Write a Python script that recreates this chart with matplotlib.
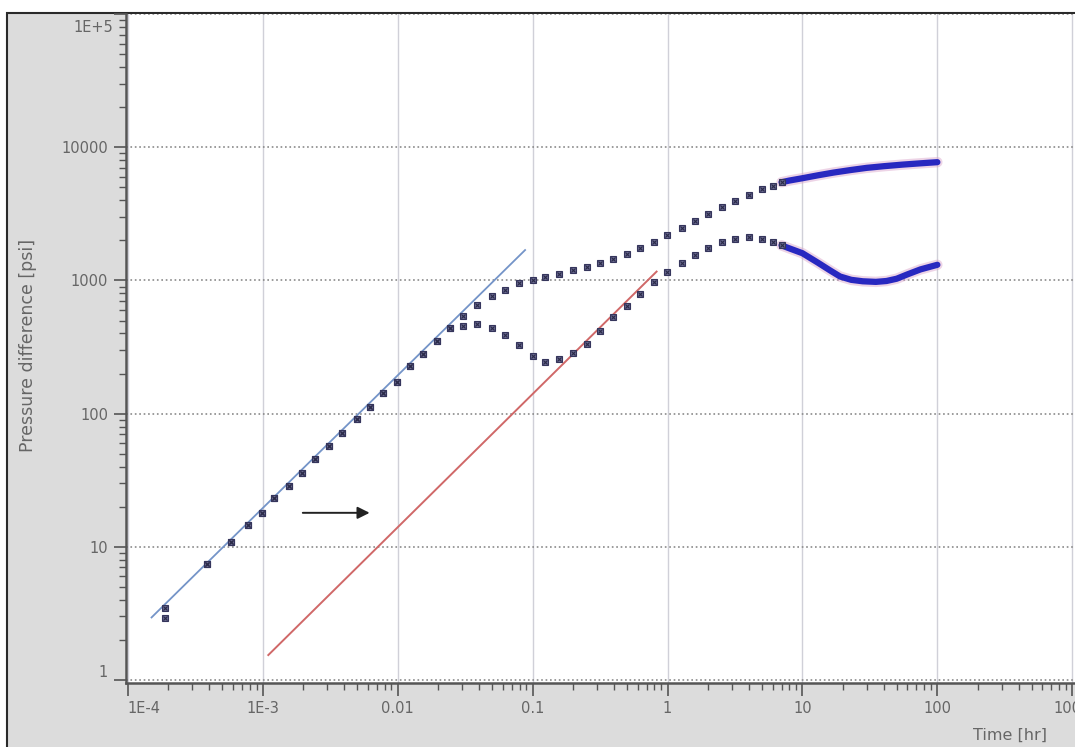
import numpy as np
import matplotlib.pyplot as plt
from matplotlib.patches import Rectangle
from matplotlib.ticker import NullFormatter

# pressure change (upper) and its derivative (lower), sampled points
pressure_t = [1.9e-4, 3.87e-4, 5.82e-4, 7.8e-4, 9.9e-4, 1.22e-3, 1.57e-3, 1.96e-3, 2.44e-3,
              3.1e-3, 3.88e-3, 5.0e-3, 6.25e-3, 7.8e-3, 9.9e-3, 0.0124, 0.0154, 0.0196,
              0.0244, 0.0305, 0.0388, 0.0501, 0.0625, 0.0794, 0.1009, 0.124, 0.157, 0.2,
              0.253, 0.316, 0.394, 0.5, 0.625, 0.794, 0.99, 1.276, 1.6, 2.0, 2.53, 3.16,
              4.0, 5.0, 6.0, 7.0]
pressure_p = [3.5, 7.45, 10.9, 14.6, 18, 23.4, 28.8, 36, 45.9, 57.5, 72, 91.7, 113, 144,
              174, 226, 278, 348, 436, 536, 649, 758, 841, 949, 1000, 1054, 1109, 1189,
              1253, 1342, 1438, 1567, 1741, 1932, 2200, 2460, 2778, 3135, 3539, 3926,
              4357, 4834, 5093, 5457]

deriv_t = pressure_t
deriv_p = [2.92, 7.45, 10.9, 14.6, 18, 23.4, 28.8, 36, 45.9, 57.5, 72, 91.7, 113, 144,
           174, 226, 278, 348, 436, 451, 467, 443, 386, 325, 273, 246, 255, 283, 336,
           414, 527, 638, 785, 966, 1148, 1342, 1542, 1741, 1932, 2033, 2105, 2033,
           1932, 1833]

# late-time data is sampled densely enough to read as a solid band
pressure_tail_t = [7, 8, 10, 13, 17, 23, 30, 40, 55, 75, 100]
pressure_tail_p = [5457, 5620, 5850, 6150, 6450, 6750, 7000, 7200, 7400, 7570, 7720]
deriv_tail_t = [7, 8, 10, 13, 16, 19, 23, 28, 35, 42, 50, 60, 75, 100]
deriv_tail_p = [1833, 1740, 1600, 1360, 1190, 1070, 1010, 985, 975, 990, 1030, 1110, 1210, 1310]

# unit-slope (wellbore storage) lines
storage_t = [1.5e-4, 0.088]
storage_p = [2.95, 1690]
shifted_t = [1.1e-3, 0.83]
shifted_p = [1.54, 1165]

arrow_t = [1.89e-3, 6.5e-3]
arrow_p = 18.0

xticks = [1e-4, 1e-3, 0.01, 0.1, 1, 10, 100, 1000]
xticklabels = ['1E-4', '1E-3', '0.01', '0.1', '1', '10', '100', '1000']
yticks = [1, 10, 100, 1000, 10000, 100000]
yticklabels = ['1', '10', '100', '1000', '10000', '1E+5']

W, H = 1075, 747
fig = plt.figure(figsize=(W / 100, H / 100), dpi=100, facecolor='white')

# grey panel with a dark frame on its left and top edges
fig.patches.append(Rectangle((7 / W, -0.1), 1.2, 1 - 13 / H + 0.1, transform=fig.transFigure,
                             facecolor='#dcdcdc', edgecolor='#2a2a2a', lw=1.5, zorder=-5))

ax = fig.add_axes([126 / W, 1 - 683 / H, 1 - 126 / W, (683 - 14) / H])
ax.set_facecolor('white')
ax.set_xscale('log')
ax.set_yscale('log')
ax.set_xlim(9.7e-5, 10 ** 3.02)
ax.set_ylim(0.95, 1.0e5)

ax.grid(True, which='major', axis='y', ls=':', color='#8a8a8a', lw=1.2)
ax.grid(True, which='major', axis='x', ls='-', color='#d0d0d8', lw=1.0)
ax.set_axisbelow(True)

ax.plot(storage_t, storage_p, color='#7494c8', lw=1.3, zorder=2)
ax.plot(shifted_t, shifted_p, color='#d06868', lw=1.4, zorder=2)

for tt, pp in [(pressure_tail_t, pressure_tail_p), (deriv_tail_t, deriv_tail_p)]:
    ax.plot(tt, pp, color='#d8a0c8', lw=7.5, alpha=0.45, solid_capstyle='round', zorder=3)
    ax.plot(tt, pp, color='#2828c0', lw=4.5, solid_capstyle='round', zorder=4)

for tt, pp in [(deriv_t, deriv_p), (pressure_t, pressure_p)]:
    ax.plot(tt, pp, ls='none', marker='s', ms=4.5, mfc='#6a6a90', mec='#35355c', mew=0.8, zorder=5)
    ax.plot(tt, pp, ls='none', marker='x', ms=3.5, color='#2a2a48', mew=0.8, zorder=6)

ax.annotate('', xy=(arrow_t[1], arrow_p), xytext=(arrow_t[0], arrow_p),
            arrowprops=dict(arrowstyle='-|>', color='#222222', lw=1.4, mutation_scale=18))

ax.set_xticks(xticks)
ax.set_xticklabels(xticklabels)
ax.set_yticks(yticks)
ax.set_yticklabels(yticklabels[:-1] + [''])
ax.xaxis.set_minor_formatter(NullFormatter())
ax.yaxis.set_minor_formatter(NullFormatter())
# end labels are pulled inward so they stay clear of the corners
ax.get_xticklabels()[0].set_ha('left')
ax.get_yticklabels()[0].set_va('bottom')
ax.annotate(yticklabels[-1], xy=(0, yticks[-1]), xycoords=('axes fraction', 'data'),
            xytext=(-13, -13), textcoords='offset pixels', ha='right', va='center',
            fontsize=10.5, color='#666666')

ax.tick_params(which='major', length=9, width=1.2, color='#555555', labelcolor='#666666',
               labelsize=10.5, pad=4)
ax.tick_params(which='minor', length=5, width=1.0, color='#555555')

for side in ['top', 'right']:
    ax.spines[side].set_visible(False)
for side in ['left', 'bottom']:
    ax.spines[side].set_color('#555555')
    ax.spines[side].set_linewidth(1.8)

fig.text(28 / W, 1 - 345 / H, 'Pressure difference [psi]', rotation=90, ha='center',
         va='center', fontsize=12.5, color='#666666')
fig.text(1010 / W, 1 - 735 / H, 'Time [hr]', ha='center', va='center', fontsize=11.5,
         color='#666666')

fig.savefig('out.png', dpi=100, facecolor=fig.get_facecolor())
